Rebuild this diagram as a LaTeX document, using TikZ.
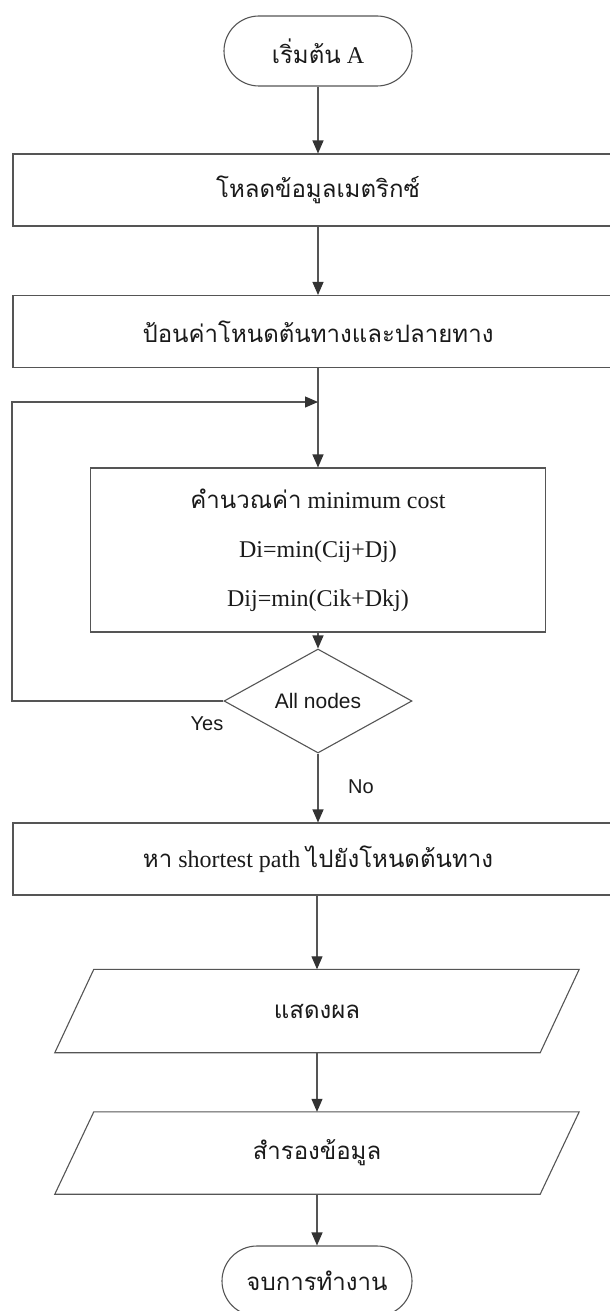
\documentclass[tikz,border=0pt]{standalone}
\usepackage{fontspec}
\setmainfont{Liberation Serif}
\newfontfamily\thaifont[Script=Thai]{Loma}
\newfontfamily\arialfont{Liberation Sans}
\newcommand{\thaitxt}[1]{{\thaifont #1}}
\usetikzlibrary{shapes.geometric,arrows.meta}
\definecolor{linec}{HTML}{555555}
\definecolor{tipc}{HTML}{333333}
\definecolor{textc}{HTML}{1A1A1A}
\tikzset{
  base/.style={draw=linec, line width=1.1pt, text=textc, font=\fontsize{24}{28}\selectfont, inner sep=0pt},
  termbox/.style={base, rectangle, rounded corners=35pt, minimum width=188pt, minimum height=70pt},
  procbox/.style={base, rectangle, minimum width=610pt, minimum height=72pt},
  calcbox/.style={base, rectangle, minimum width=455pt, minimum height=164pt, align=center, font=\fontsize{24}{49}\selectfont},
  decbox/.style={base, diamond, aspect=1.8, minimum width=188pt, minimum height=104pt, font=\arialfont\fontsize{21}{24}\selectfont},
  iobox/.style={rectangle, draw=none, text=textc, inner sep=0pt, minimum width=485pt, minimum height=83pt, font=\fontsize{24}{28}\selectfont},
  iofr/.style={draw=linec, line width=1.1pt},
  conn/.style={draw=linec, line width=1.1pt, -{Triangle[length=13pt,width=11pt,color=tipc]}},
  lbl/.style={text=textc, font=\arialfont\fontsize{20}{24}\selectfont, inner sep=0pt}
}
\begin{document}
\begin{tikzpicture}[x=1pt,y=-1pt]
\useasboundingbox (0,0) rectangle (610,1311);
\fill[white] (0,0) rectangle (610,1311);
\begin{scope}
\clip (0,0) rectangle (610,1311);
\node[termbox] (start) at (318,51) {\thaitxt{เริ่มต้น} A};
\node[procbox] (b2) at (318,190) {\thaitxt{โหลดข้อมูลเมตริกซ์}};
\node[procbox] (b3) at (318,331.5) {\thaitxt{ป้อนค่าโหนดต้นทางและปลายทาง}};
\node[calcbox] (b4) at (318,550) {\thaitxt{คำนวณค่า} minimum cost\\Di=min(Cij+Dj)\\Dij=min(Cik+Dkj)};
\node[decbox] (d) at (318,701) {All nodes};
\node[procbox] (b5) at (318,859) {\thaitxt{หา} shortest path \thaitxt{ไปยังโหนดต้นทาง}};
\node[iobox] (p1) at (317,1011) {\thaitxt{แสดงผล}};
\draw[iofr] ([xshift=19.5pt]p1.north west) -- ([xshift=19.5pt]p1.north east) -- ([xshift=-19.5pt]p1.south east) -- ([xshift=-19.5pt]p1.south west) -- cycle;
\node[iobox, minimum height=82pt] (p2) at (317,1153) {\thaitxt{สำรองข้อมูล}};
\draw[iofr] ([xshift=19.5pt]p2.north west) -- ([xshift=19.5pt]p2.north east) -- ([xshift=-19.5pt]p2.south east) -- ([xshift=-19.5pt]p2.south west) -- cycle;
\node[termbox, minimum width=190pt] (end) at (317,1281) {\thaitxt{จบการทำงาน}};
\node[lbl] (yes) at (207,724) {Yes};
\node[lbl] (no) at (361,787) {No};
\coordinate (j) at (318,402);
\coordinate (lc1) at (12,701);
\coordinate (lc2) at (12,402);
\draw[conn] (start.south) -- (b2.north);
\draw[conn] (b2.south) -- (b3.north);
\draw[conn] (b3.south) -- (b4.north);
\draw[conn] (d.west) -- (lc1) -- (lc2) -- (j);
\draw[conn] (b4.south) -- (d.north);
\draw[conn] (d.south) -- (b5.north);
\draw[conn] (b5.south -| p1.north) -- (p1.north);
\draw[conn] (p1.south) -- (p2.north);
\draw[conn] (p2.south) -- (end.north);
\end{scope}
\end{tikzpicture}
\end{document}
